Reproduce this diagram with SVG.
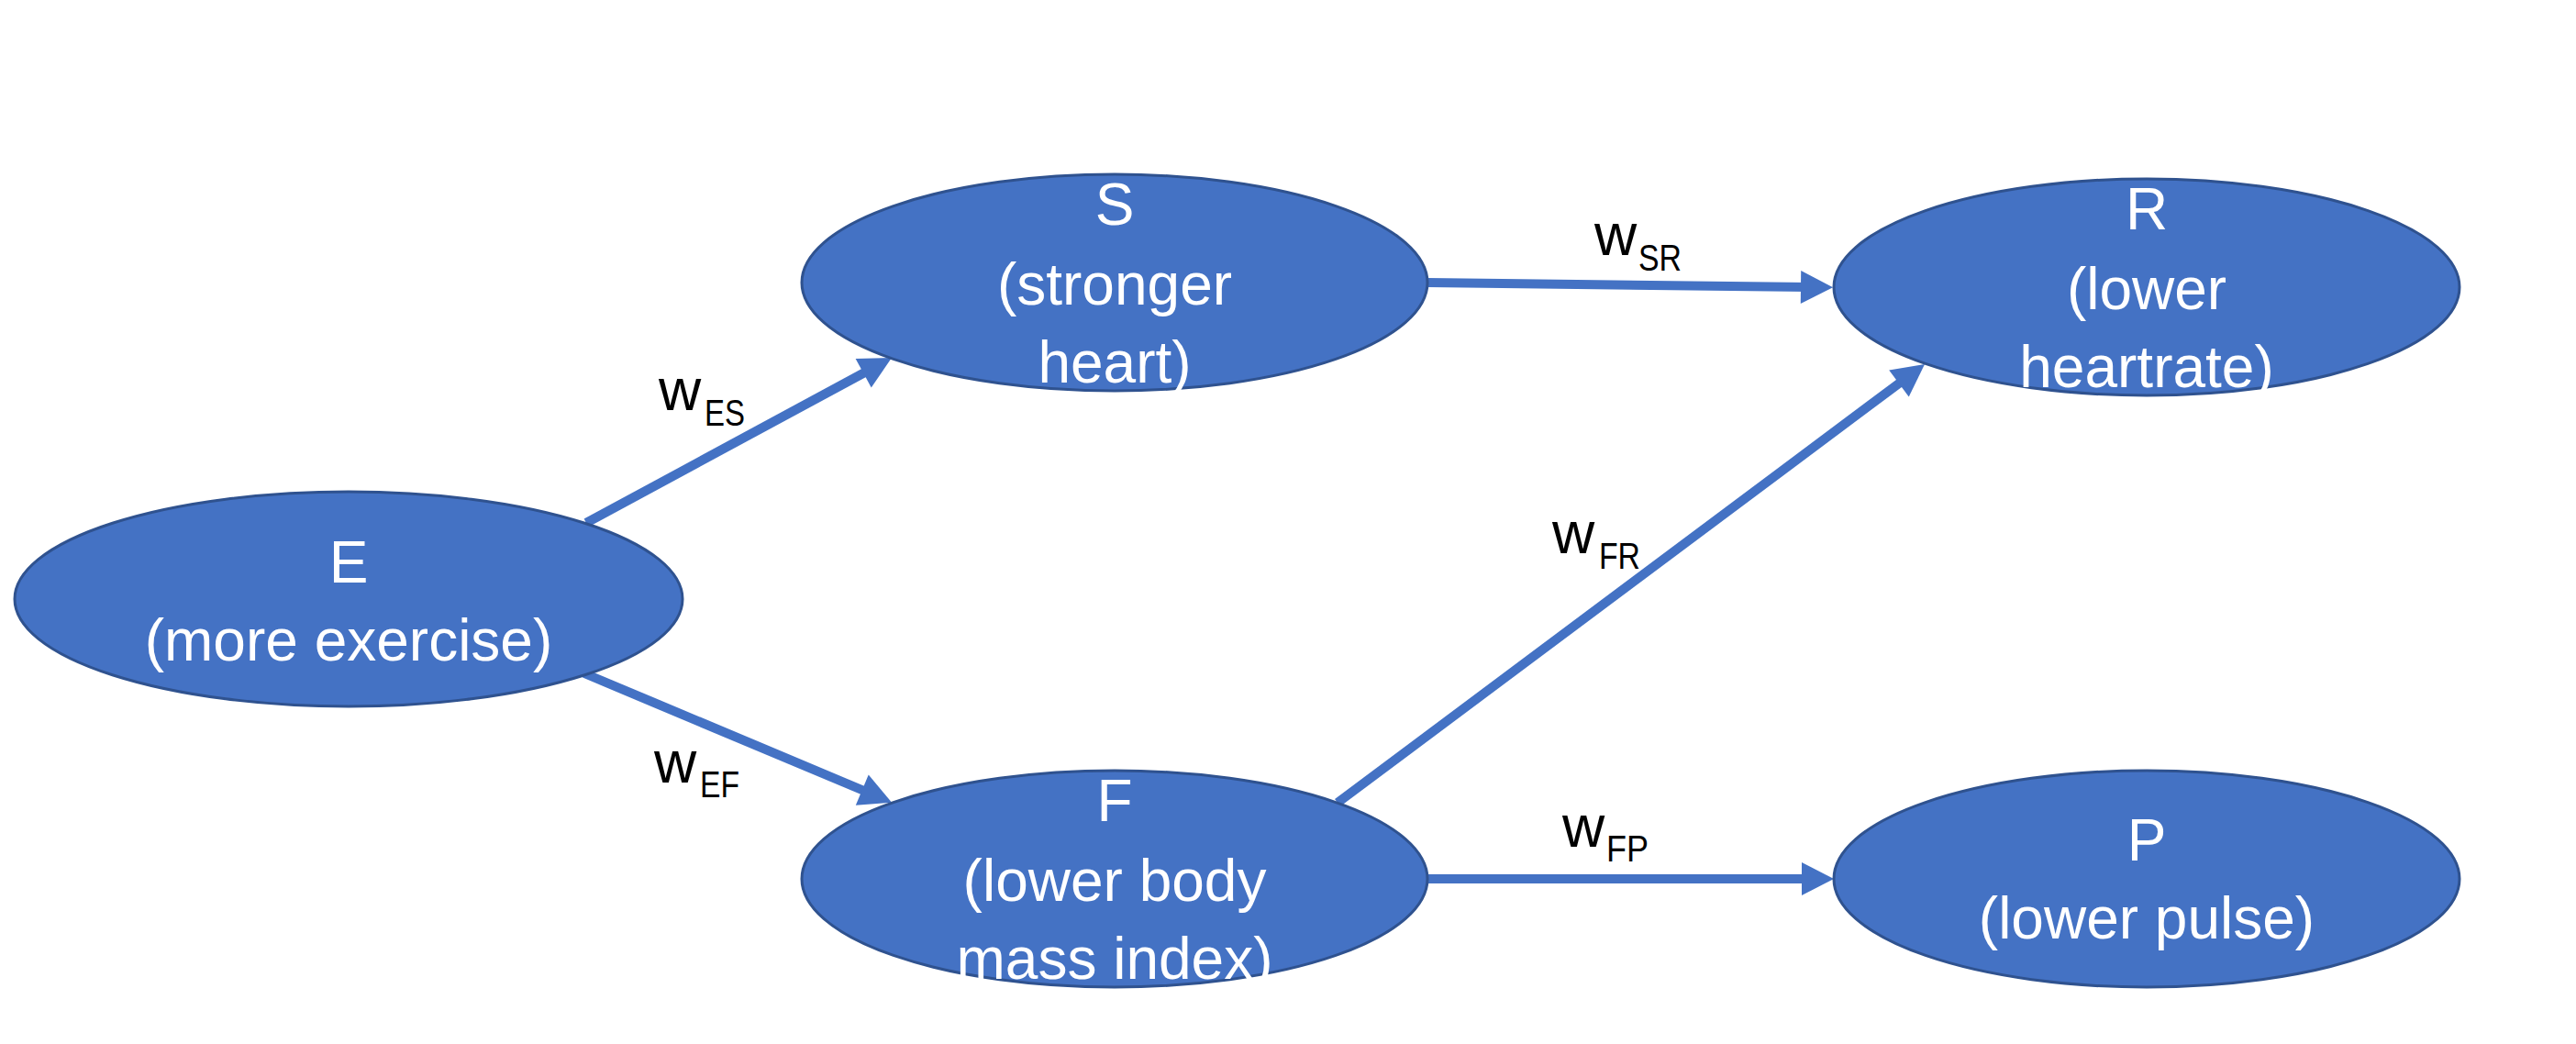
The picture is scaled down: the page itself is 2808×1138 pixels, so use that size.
<svg xmlns="http://www.w3.org/2000/svg" width="2808" height="1138" viewBox="0 0 2808 1138">
<style>
.node{fill:#4472C4;stroke:#2F528F;stroke-width:3}
.nt{font-family:"Liberation Sans",Arial,sans-serif;font-size:64px;fill:#FFFFFF;text-anchor:middle}
.conn{stroke:#4472C4;stroke-width:10;fill:none;marker-end:url(#arr)}
.lbl{font-family:"Liberation Sans",Arial,sans-serif;font-size:64px;fill:#000000}
.sub{font-size:40px}
</style>
<defs>
<marker id="arr" markerUnits="userSpaceOnUse" markerWidth="36" markerHeight="36" refX="10" refY="18" orient="auto" overflow="visible">
<path d="M0,0 L35,18 L0,36 Z" fill="#4472C4"/>
</marker>
</defs>
<rect width="2808" height="1138" fill="#FFFFFF"/>
<g id="connectors">
<line class="conn" x1="639" y1="570" x2="950" y2="402"/>
<line class="conn" x1="637" y1="734" x2="949" y2="865"/>
<line class="conn" x1="1556" y1="308" x2="1973" y2="313"/>
<line class="conn" x1="1458" y1="875" x2="2078" y2="412"/>
<line class="conn" x1="1556" y1="958" x2="1974" y2="958"/>
</g>
<g id="labels">
<text class="lbl" x="718" y="447">w<tspan class="sub" x="768" y="464" textLength="44" lengthAdjust="spacingAndGlyphs">ES</tspan></text>
<text class="lbl" x="713" y="853">w<tspan class="sub" x="763" y="869" textLength="43" lengthAdjust="spacingAndGlyphs">EF</tspan></text>
<text class="lbl" x="1738" y="278">w<tspan class="sub" x="1786" y="295" textLength="47" lengthAdjust="spacingAndGlyphs">SR</tspan></text>
<text class="lbl" x="1692" y="603">w<tspan class="sub" x="1743" y="620" textLength="45" lengthAdjust="spacingAndGlyphs">FR</tspan></text>
<text class="lbl" x="1703" y="923">w<tspan class="sub" x="1751" y="939" textLength="46" lengthAdjust="spacingAndGlyphs">FP</tspan></text>
</g>
<g id="node-E">
<ellipse class="node" cx="380" cy="653" rx="364" ry="117"/>
<text class="nt" x="380" y="635">E</text>
<text class="nt" x="380" y="720">(more exercise)</text>
</g>
<g id="node-S">
<ellipse class="node" cx="1215" cy="308" rx="341" ry="118"/>
<text class="nt" x="1215" y="245">S</text>
<text class="nt" x="1215" y="332">(stronger</text>
<text class="nt" x="1215" y="417">heart)</text>
</g>
<g id="node-F">
<ellipse class="node" cx="1215" cy="958" rx="341" ry="118"/>
<text class="nt" x="1215" y="895">F</text>
<text class="nt" x="1215" y="982">(lower body</text>
<text class="nt" x="1215" y="1067">mass index)</text>
</g>
<g id="node-R">
<ellipse class="node" cx="2340" cy="313" rx="341" ry="118"/>
<text class="nt" x="2340" y="250">R</text>
<text class="nt" x="2340" y="337">(lower</text>
<text class="nt" x="2340" y="422">heartrate)</text>
</g>
<g id="node-P">
<ellipse class="node" cx="2340" cy="958" rx="341" ry="118"/>
<text class="nt" x="2340" y="938">P</text>
<text class="nt" x="2340" y="1023">(lower pulse)</text>
</g>
</svg>
